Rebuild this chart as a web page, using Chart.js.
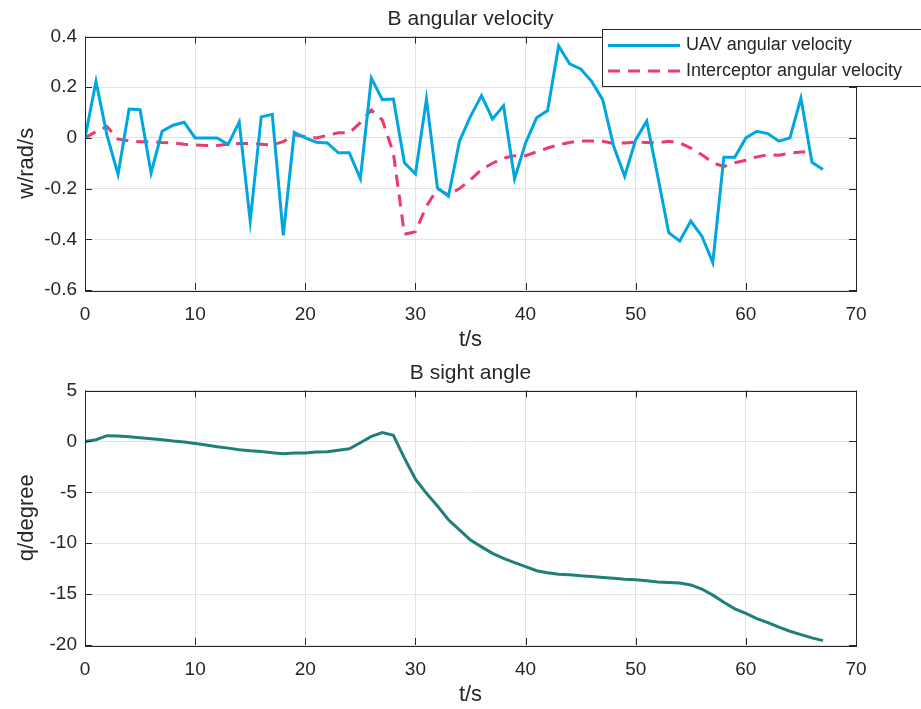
<!DOCTYPE html>
<html lang="en">
    <head>
        <meta charset="UTF-8" />
        <title>B angular velocity / B sight angle</title>
        <script src="https://cdn.jsdelivr.net/npm/chart.js"></script>
        <style>
            body { margin: 0; background: #fff; }
            canvas { display: block; }
        </style>
    </head>
    <body>
        <canvas id="velChart" width="921" height="354"></canvas>
        <canvas id="angleChart" width="921" height="355"></canvas>

        <script>
            // time axis, seconds
            const time = [0, 1, 2, 3, 4, 5, 6, 7, 8, 9, 10, 11, 12, 13, 14, 15, 16, 17, 18, 19,
                20, 21, 22, 23, 24, 25, 26, 27, 28, 29, 30, 31, 32, 33, 34, 35, 36, 37, 38, 39,
                40, 41, 42, 43, 44, 45, 46, 47, 48, 49, 50, 51, 52, 53, 54, 55, 56, 57, 58, 59,
                60, 61, 62, 63, 64, 65, 66, 67];

            // B angular velocity (rad/s)
            const uavVel = [0, 0.223, 0.01, -0.144, 0.114, 0.111, -0.138, 0.026, 0.05, 0.062,
                0, 0, 0, -0.026, 0.063, -0.328, 0.083, 0.093, -0.384, 0.022,
                0, -0.017, -0.02, -0.059, -0.059, -0.161, 0.236, 0.151, 0.153, -0.098,
                -0.142, 0.153, -0.197, -0.23, -0.013, 0.085, 0.167, 0.075, 0.127, -0.161,
                -0.02, 0.079, 0.108, 0.363, 0.292, 0.272, 0.223, 0.151, -0.033, -0.151,
                -0.007, 0.066, -0.151, -0.374, -0.407, -0.328, -0.387, -0.492, -0.076, -0.076,
                0, 0.026, 0.017, -0.013, 0, 0.157, -0.096, -0.125];

            const interceptorVel = [0, 0.025, 0.045, -0.005, -0.012, -0.015, -0.015, -0.018, -0.02, -0.025,
                -0.028, -0.03, -0.03, -0.025, -0.022, -0.022, -0.025, -0.028, -0.015, 0.012,
                0.005, 0.0, 0.01, 0.02, 0.02, 0.06, 0.11, 0.07, -0.06, -0.38,
                -0.37, -0.27, -0.2, -0.225, -0.2, -0.165, -0.125, -0.1, -0.08, -0.07,
                -0.07, -0.055, -0.04, -0.027, -0.018, -0.012, -0.012, -0.013, -0.022, -0.02,
                -0.017, -0.018, -0.02, -0.013, -0.02, -0.04, -0.066, -0.098, -0.113, -0.098,
                -0.088, -0.075, -0.066, -0.068, -0.06, -0.056, -0.055];

            // B sight angle (degree)
            const sightAngle = [0, 0.16, 0.56, 0.53, 0.46, 0.36, 0.26, 0.16, 0.03, -0.07,
                -0.2, -0.36, -0.53, -0.66, -0.82, -0.92, -0.99, -1.12, -1.22, -1.15,
                -1.15, -1.05, -1.02, -0.86, -0.72, -0.13, 0.49, 0.86, 0.59, -1.64,
                -3.7, -5.1, -6.35, -7.7, -8.7, -9.7, -10.36, -11.0, -11.5, -11.9,
                -12.3, -12.7, -12.9, -13.06, -13.1, -13.2, -13.26, -13.36, -13.45, -13.55,
                -13.6, -13.7, -13.8, -13.85, -13.9, -14.1, -14.5, -15.1, -15.8, -16.45,
                -16.9, -17.4, -17.8, -18.25, -18.65, -18.98, -19.3, -19.57];

            const xTicks = [0, 10, 20, 30, 40, 50, 60, 70];
            const velTicks = [-0.6, -0.4, -0.2, 0, 0.2, 0.4];
            const angleTicks = [-20, -15, -10, -5, 0, 5];

            const legendLabels = ['UAV angular velocity', 'Interceptor angular velocity'];

            const FONT = '"Liberation Sans", Arial, Helvetica, sans-serif';
            const INK = '#262626';
            const BLUE = '#00a6e2';
            const PINK = '#ec3a6b';
            const TEAL = '#1f7f79';

            function toPoints(values) {
                return values.map((v, i) => ({ x: time[i], y: v }));
            }

            // matlab-like frame: box, inward ticks, title, optional legend
            const matlabFrame = {
                id: 'matlabFrame',
                afterDraw(chart, args, opts) {
                    const { ctx, chartArea: a, scales } = chart;
                    ctx.save();
                    ctx.strokeStyle = INK;
                    ctx.lineWidth = 1;
                    ctx.beginPath();
                    scales.x.ticks.forEach(t => {
                        const px = Math.round(scales.x.getPixelForValue(t.value)) + 0.5;
                        ctx.moveTo(px, a.bottom); ctx.lineTo(px, a.bottom - 7);
                        ctx.moveTo(px, a.top); ctx.lineTo(px, a.top + 7);
                    });
                    scales.y.ticks.forEach(t => {
                        const py = Math.round(scales.y.getPixelForValue(t.value)) + 0.5;
                        ctx.moveTo(a.left, py); ctx.lineTo(a.left + 7, py);
                        ctx.moveTo(a.right, py); ctx.lineTo(a.right - 7, py);
                    });
                    ctx.stroke();
                    ctx.strokeRect(Math.round(a.left) + 0.5, Math.round(a.top) + 0.5,
                        Math.round(a.right - a.left), Math.round(a.bottom - a.top));

                    ctx.fillStyle = INK;
                    ctx.font = '21px ' + FONT;
                    ctx.textAlign = 'center';
                    ctx.textBaseline = 'middle';
                    ctx.fillText(opts.title, (a.left + a.right) / 2, a.top - 17);

                    if (opts.legend) {
                        const lx = 602.5, ly = 29.5;
                        ctx.fillStyle = '#fff';
                        ctx.fillRect(lx, ly, 330, 57);
                        ctx.strokeRect(lx, ly, 330, 57);
                        chart.data.datasets.forEach((ds, i) => {
                            const y = ly + 16 + i * 25.5;
                            ctx.strokeStyle = ds.borderColor;
                            ctx.lineWidth = 3;
                            ctx.setLineDash(ds.borderDash || []);
                            ctx.beginPath();
                            ctx.moveTo(608, y); ctx.lineTo(680, y);
                            ctx.stroke();
                            ctx.setLineDash([]);
                            ctx.fillStyle = INK;
                            ctx.font = '18px ' + FONT;
                            ctx.textAlign = 'left';
                            ctx.fillText(ds.label, 686, y);
                        });
                    }
                    ctx.restore();
                }
            };

            function makeOptions(yMin, yMax, yStep, yLabel, title, legend) {
                return {
                    responsive: false,
                    animation: false,
                    layout: { padding: { top: 36.5, right: 65, left: 0, bottom: 0 } },
                    elements: { point: { radius: 0 }, line: { tension: 0 } },
                    plugins: {
                        legend: { display: false },
                        tooltip: { enabled: false },
                        matlabFrame: { title: title, legend: legend }
                    },
                    scales: {
                        x: {
                            type: 'linear',
                            min: 0, max: 70,
                            afterBuildTicks: s => { s.ticks = xTicks.map(v => ({ value: v })); },
                            afterFit: s => { s.height = 64; },
                            grid: { color: '#e3e3e3', drawTicks: false },
                            border: { display: false },
                            ticks: { color: INK, padding: 13, font: { family: FONT, size: 19 } },
                            title: {
                                display: true, text: 't/s', color: INK,
                                font: { family: FONT, size: 22 }, padding: { top: 0, bottom: 1 }
                            }
                        },
                        y: {
                            min: yMin, max: yMax,
                            afterBuildTicks: s => { s.ticks = yStep.map(v => ({ value: v })); },
                            afterFit: s => { s.width = 85; },
                            grid: { color: '#e3e3e3', drawTicks: false },
                            border: { display: false },
                            ticks: {
                                color: INK, padding: 8, font: { family: FONT, size: 19 },
                                callback: v => String(+v.toFixed(2))
                            },
                            title: {
                                display: true, text: yLabel, color: INK,
                                font: { family: FONT, size: 22 }, padding: { top: 14, bottom: 0 }
                            }
                        }
                    }
                };
            }

            new Chart(document.getElementById('velChart'), {
                type: 'line',
                data: {
                    datasets: [
                        {
                            label: legendLabels[0],
                            data: toPoints(uavVel),
                            borderColor: BLUE,
                            borderWidth: 3
                        },
                        {
                            label: legendLabels[1],
                            data: toPoints(interceptorVel),
                            borderColor: PINK,
                            borderWidth: 3,
                            borderDash: [12, 8]
                        }
                    ]
                },
                options: makeOptions(-0.6, 0.4, velTicks, 'w/rad/s', 'B angular velocity', true),
                plugins: [matlabFrame]
            });

            new Chart(document.getElementById('angleChart'), {
                type: 'line',
                data: {
                    datasets: [{
                        label: 'B sight angle',
                        data: toPoints(sightAngle),
                        borderColor: TEAL,
                        borderWidth: 3
                    }]
                },
                options: makeOptions(-20, 5, angleTicks, 'q/degree', 'B sight angle', false),
                plugins: [matlabFrame]
            });
        </script>
    </body>
</html>
